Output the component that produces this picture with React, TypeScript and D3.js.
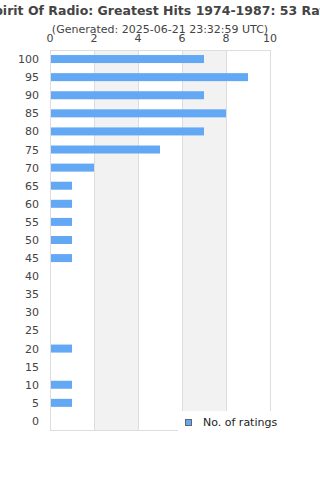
import React from "react";
import * as d3 from "d3";

const categories = ["100","95","90","85","80","75","70","65","60","55","50","45","40","35","30","25","20","15","10","5","0"];
const ratings = [7,9,7,8,7,5,2,1,1,1,1,1,0,0,0,0,1,0,1,1,0];
const xTicks = [0,2,4,6,8,10];
const title = "Spirit Of Radio: Greatest Hits 1974-1987: 53 Ratings";
const subtitle = "(Generated: 2025-06-21 23:32:59 UTC)";
const seriesName = "No. of ratings";

export default function App() {
  const W = 320, H = 480;
  const left = 50, right = 270, top = 50, bottom = 430;
  const x = d3.scaleLinear().domain([0, 10]).range([left, right]);
  const y = d3.scaleBand().domain(categories).range([top, bottom]);
  const font = "DejaVu Sans, sans-serif";
  const bands = [[2,4],[6,8]];
  return (
    <svg width={W} height={H} style={{ position: "absolute", left: 0, top: 0 }} fontFamily={font}>
      <rect width={W} height={H} fill="#fff" />
      {bands.map(([a, b], i) => (
        <rect key={i} x={x(a)} y={top} width={x(b) - x(a)} height={bottom - top} fill="#f2f2f2" />
      ))}
      {xTicks.map((t) => (
        <line key={t} x1={x(t) + 0.5} x2={x(t) + 0.5} y1={top} y2={bottom} stroke="#dddddd" strokeWidth={1} />
      ))}
      <line x1={left} x2={right + 1} y1={top + 0.5} y2={top + 0.5} stroke="#dddddd" />
      <line x1={left} x2={right + 1} y1={bottom + 0.5} y2={bottom + 0.5} stroke="#dddddd" />
      {categories.map((c, i) => (
        <rect key={c} x={x(0) + 1} y={(y(c) as number) + y.bandwidth() / 2 - 4} width={Math.max(0, x(ratings[i]) - x(0) - 1)} height={8} fill="#62a8f5" />
      ))}
      {categories.map((c) => (
        <text key={c} x={39} y={(y(c) as number) + y.bandwidth() / 2 + 4} textAnchor="end" fontSize={11} fill="#444">{c}</text>
      ))}
      {xTicks.map((t) => (
        <text key={t} x={x(t)} y={42} textAnchor="middle" fontSize={11} fill="#444">{t}</text>
      ))}
      <text x={170} y={15} textAnchor="middle" fontSize={12.5} fontWeight="bold" fill="#444">{title}</text>
      <text x={160} y={33} textAnchor="middle" fontSize={11} fill="#444">{subtitle}</text>
      <rect x={178} y={411} width={110} height={25} fill="#fff" />
      <rect x={185.5} y={419.5} width={6} height={6} fill="#62a8f5" stroke="#666" strokeWidth={1} />
      <text x={203} y={426} fontSize={11} fill="#222">{seriesName}</text>
    </svg>
  );
}
